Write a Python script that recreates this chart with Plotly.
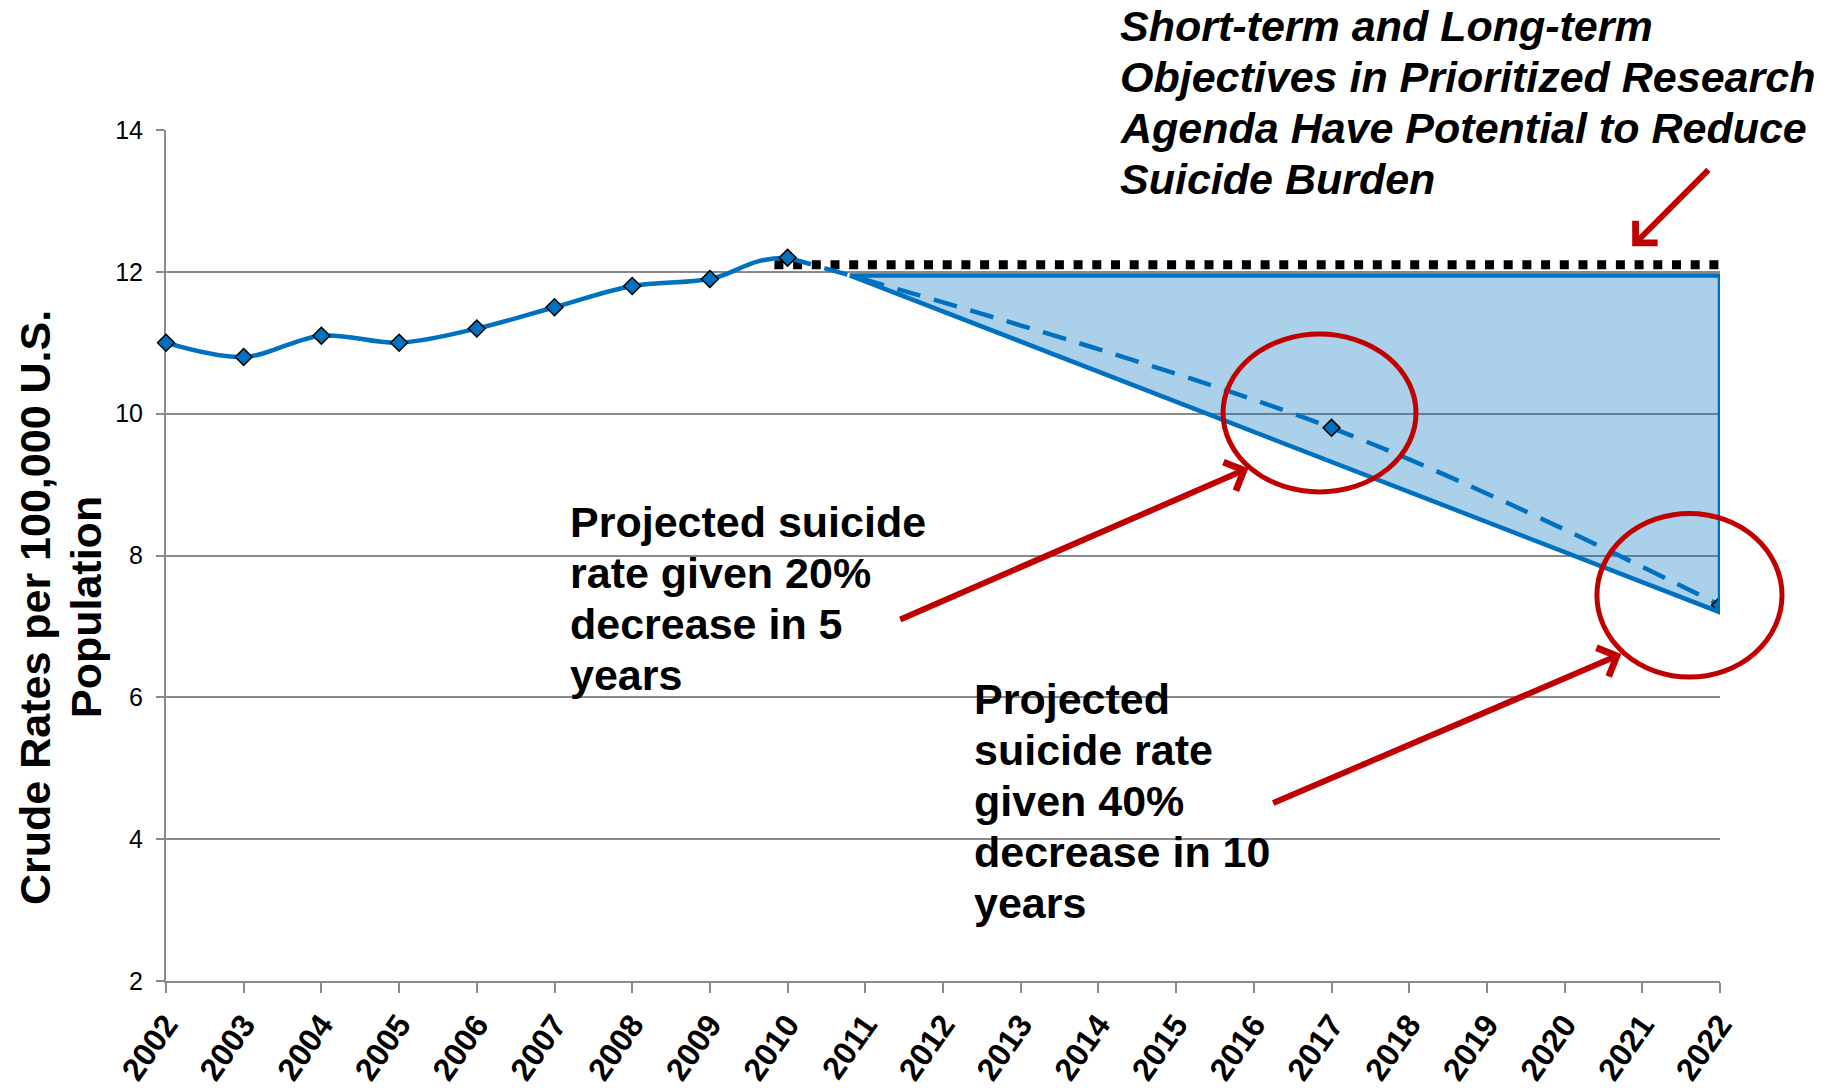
import plotly.graph_objects as go

# ---- data -------------------------------------------------------------
years = list(range(2002, 2023))
year_labels = [str(y) for y in years]

observed_years = [2002, 2003, 2004, 2005, 2006, 2007, 2008, 2009, 2010]
observed_rates = [11.0, 10.8, 11.1, 11.0, 11.2, 11.5, 11.8, 11.9, 12.2]

projected_years = [2017, 2022]
projected_rates = [9.8, 7.3]

# flat reference level (no change in rate)
baseline_years = [2009.83, 2022]
baseline_rates = [12.1, 12.1]

# burden reduction region between flat level and 40% decrease path
region_years = [2010.8, 2022, 2022, 2010.8]
region_rates = [11.95, 11.95, 7.2, 11.95]

y_ticks = [2, 4, 6, 8, 10, 12, 14]

headline_lines = [
    "Short-term and Long-term",
    "Objectives in Prioritized Research",
    "Agenda Have Potential to Reduce",
    "Suicide Burden",
]
callout_20_lines = ["Projected suicide", "rate given 20%", "decrease in 5", "years"]
callout_40_lines = ["Projected", "suicide rate", "given 40%", "decrease in 10", "years"]
y_title_lines = ["Crude Rates per 100,000 U.S.", "Population"]

# ---- styling ------------------------------------------------------------
BLUE = "#0070C0"
RED = "#C00000"
GRID = "#8A8A8A"
FONT = "Liberation Sans, Arial, sans-serif"
LINE_PITCH = 51  # px between stacked text lines

all_years = observed_years + projected_years
all_rates = observed_rates + projected_rates
split_share = (observed_years[-1] - years[0]) / (years[-1] - years[0])

fig = go.Figure()

# shaded reduction region
fig.add_trace(go.Scatter(
    x=region_years, y=region_rates, mode="lines", fill="toself",
    fillcolor="rgba(0,112,192,0.33)", line=dict(width=0), hoverinfo="skip",
))

# flat reference level
fig.add_trace(go.Scatter(
    x=baseline_years, y=baseline_rates, mode="lines",
    line=dict(color="black", width=9, dash="9px,9.7px"), hoverinfo="skip",
))

# projected path (dashed)
fig.add_trace(go.Scatter(
    x=[observed_years[-1]] + projected_years,
    y=[observed_rates[-1]] + projected_rates,
    mode="lines", line=dict(color=BLUE, width=4.5, dash="24px,14px", shape="spline"),
))

# projected markers
fig.add_trace(go.Scatter(
    x=projected_years, y=projected_rates, mode="markers",
    marker=dict(symbol="diamond", size=13, color=BLUE, line=dict(color="black", width=1.5)),
))

# outline of the reduction region
fig.add_trace(go.Scatter(
    x=region_years, y=region_rates, mode="lines",
    line=dict(color=BLUE, width=4.5), hoverinfo="skip",
))

# observed rates: smooth line through the whole series, clipped to the observed years
fig.add_trace(go.Scatter(
    x=all_years, y=all_rates, mode="lines", xaxis="x2", yaxis="y",
    line=dict(color=BLUE, width=4.5, shape="spline"),
))
fig.add_trace(go.Scatter(
    x=observed_years, y=observed_rates, mode="markers", xaxis="x2", yaxis="y",
    cliponaxis=False,
    marker=dict(symbol="diamond", size=13, color=BLUE, line=dict(color="black", width=1.5)),
))

# ---- annotations ----------------------------------------------------------
annotations = []


def stacked_text(lines, x, y, size, italic=False, vertical=False):
    """Add one annotation per line so the line spacing can be set exactly."""
    for i, line in enumerate(lines):
        body = f"<b><i>{line}</i></b>" if italic else f"<b>{line}</b>"
        ann = dict(text=body, xref="paper", yref="paper", x=x, y=y,
                   showarrow=False, font=dict(family=FONT, size=size, color="black"))
        if vertical:
            ann.update(xanchor="center", yanchor="middle", textangle=-90,
                       xshift=i * LINE_PITCH)
        else:
            ann.update(xanchor="left", yanchor="middle", align="left",
                       yshift=-i * LINE_PITCH)
        annotations.append(ann)


stacked_text(headline_lines, 0.6126, 1.1226, 43, italic=True)
stacked_text(callout_20_lines, 0.2587, 0.5394, 43)
stacked_text(callout_40_lines, 0.5187, 0.3314, 43)
stacked_text(y_title_lines, -0.0843, 0.4395, 43, vertical=True)

# red pointer arrows (tip -> tail in data units)
arrows = [
    ((2015.93, 9.23), (2011.43, 7.09)),
    ((2020.73, 6.61), (2016.23, 4.50)),
    ((2020.87, 12.36), (2021.87, 13.46)),
]
for (tx, ty), (sx, sy) in arrows:
    annotations.append(dict(
        text="", x=tx, y=ty, xref="x", yref="y", ax=sx, ay=sy, axref="x", ayref="y",
        showarrow=True, arrowhead=4, arrowsize=1.0, arrowwidth=6, arrowcolor=RED,
    ))

shapes = [
    # white backing boxes behind the callout texts
    dict(type="rect", xref="paper", yref="paper", x0=0.2439, x1=0.5103, y0=0.323, y1=0.577,
         fillcolor="white", line=dict(width=0), layer="between"),
    dict(type="rect", xref="paper", yref="paper", x0=0.5077, x1=0.7246, y0=0.0552, y1=0.3643,
         fillcolor="white", line=dict(width=0), layer="between"),
    # highlight circles
    dict(type="circle", xref="paper", yref="paper", x0=0.6802, x1=0.8044, y0=0.5746, y1=0.7603,
         line=dict(color=RED, width=5), fillcolor="rgba(0,0,0,0)", layer="above"),
    dict(type="circle", xref="paper", yref="paper", x0=0.9208, x1=1.0399, y0=0.3572, y1=0.5494,
         line=dict(color=RED, width=5), fillcolor="rgba(0,0,0,0)", layer="above"),
]

fig.update_layout(
    width=1830, height=1092,
    margin=dict(l=166, r=110, t=130, b=111),
    paper_bgcolor="white", plot_bgcolor="rgba(0,0,0,0)",
    showlegend=False,
    font=dict(family=FONT, color="black"),
    annotations=annotations,
    shapes=shapes,
    xaxis=dict(
        range=[years[0], years[-1]], tickmode="array", tickvals=years, ticktext=year_labels,
        tickangle=-55, tickfont=dict(family=FONT, size=32, color="black", weight="bold"),
        ticks="outside", ticklen=10, tickwidth=2, tickcolor=GRID, automargin=False,
        showline=True, linecolor=GRID, linewidth=2, showgrid=False, zeroline=False,
    ),
    xaxis2=dict(
        domain=[0, split_share], range=[years[0], observed_years[-1]],
        anchor="y", visible=False,
    ),
    yaxis=dict(
        range=[y_ticks[0], y_ticks[-1]], tickmode="array", tickvals=y_ticks,
        tickfont=dict(family=FONT, size=25, color="black"), ticklabelstandoff=8,
        ticks="outside", ticklen=8, tickwidth=2, tickcolor=GRID, automargin=False,
        showline=True, linecolor=GRID, linewidth=2,
        showgrid=True, gridcolor=GRID, gridwidth=2, zeroline=False,
    ),
)

fig.write_html("out.html")
